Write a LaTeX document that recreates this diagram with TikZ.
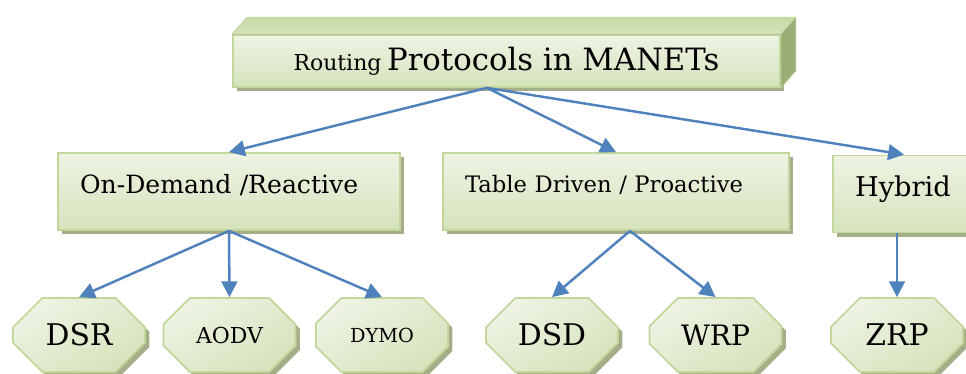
\documentclass[tikz,border=0pt]{standalone}
\usepackage{fontspec}
\setmainfont{DejaVu Serif}
\usetikzlibrary{arrows.meta,shapes.misc,shadows}

\definecolor{boxtop}{HTML}{EEF3E4}
\definecolor{boxbot}{HTML}{D6E3BC}
\definecolor{boxline}{HTML}{C3D69B}
\definecolor{boxshade}{HTML}{A4AE88}
\definecolor{lidtop}{HTML}{C8D9A4}
\definecolor{lidside}{HTML}{9CAE78}
\definecolor{linkblue}{HTML}{4F81BD}

\tikzset{
  panel/.style={draw=boxline, line width=1pt, top color=boxtop, bottom color=boxbot,
    drop shadow={shadow xshift=2.5pt, shadow yshift=-2.5pt, fill=boxshade, opacity=1}},
  group/.style={panel, minimum height=1.54cm, text depth=0.3cm, align=left, inner xsep=0.44cm},
  leaf/.style={panel, chamfered rectangle, chamfered rectangle xsep=0.36cm,
    chamfered rectangle ysep=0.36cm, minimum width=2.64cm, minimum height=1.48cm, inner sep=0pt,
    shading angle=30},
  link/.style={draw=linkblue, line width=1.4pt, -{Triangle[length=9pt,width=9pt]}}
}

\begin{document}
\begin{tikzpicture}
  \useasboundingbox (0,0) rectangle (19.32,-7.48);
  % title block with its lid and side
  \node[panel, minimum width=10.94cm, minimum height=1.04cm, inner sep=0pt] (title) at (10.13,-1.22)
    {{\fontsize{12.5}{14}\selectfont Routing} {\fontsize{17.5}{20}\selectfont Protocols in MANETs}};
  \filldraw[draw=boxline, top color=lidtop, bottom color=boxbot] (title.north west) -- ++(0.3,0.34)
    -- ([shift={(0.3,0.34)}]title.north east) -- (title.north east) -- cycle;
  \filldraw[draw=boxline, fill=lidside] (title.north east) -- ++(0.3,0.34)
    -- ([shift={(0.3,0.34)}]title.south east) -- (title.south east) -- cycle;
  % protocol families
  \node[group, minimum width=6.84cm, text width=5.96cm, font=\fontsize{14.3}{16}\selectfont]
    (ondemand) at (4.58,-3.83) {On-Demand /Reactive};
  \node[group, minimum width=6.92cm, text width=6.04cm, font=\fontsize{12.9}{15}\selectfont]
    (table) at (12.32,-3.83) {Table Driven / Proactive};
  \node[group, minimum width=2.84cm, text width=1.96cm, font=\fontsize{15.5}{17}\selectfont]
    (hybrid) at (18.08,-3.88) {Hybrid};
  % protocols
  \foreach \n/\x/\s/\t in {dsr/1.58/17/DSR, aodv/4.59/12.5/AODV, dymo/7.64/11/DYMO,
      dsd/11.04/17/DSD, wrp/14.31/16/WRP, zrp/17.94/17/ZRP}
    \node[leaf, font=\fontsize{\s}{\s}\selectfont] (\n) at (\x,-6.7) {\t};
  % connectors
  \coordinate (fork) at ([xshift=-0.39cm]title.south);
  \foreach \m in {ondemand,table,hybrid} \draw[link] (fork) -- (\m.north);
  \foreach \m in {dsr,aodv,dymo} \draw[link] (ondemand.south) -- (\m.north);
  \foreach \m in {dsd,wrp} \draw[link] ([xshift=0.28cm]table.south) -- (\m.north);
  \draw[link] (hybrid.south -| zrp.north) -- (zrp.north);
\end{tikzpicture}
\end{document}
